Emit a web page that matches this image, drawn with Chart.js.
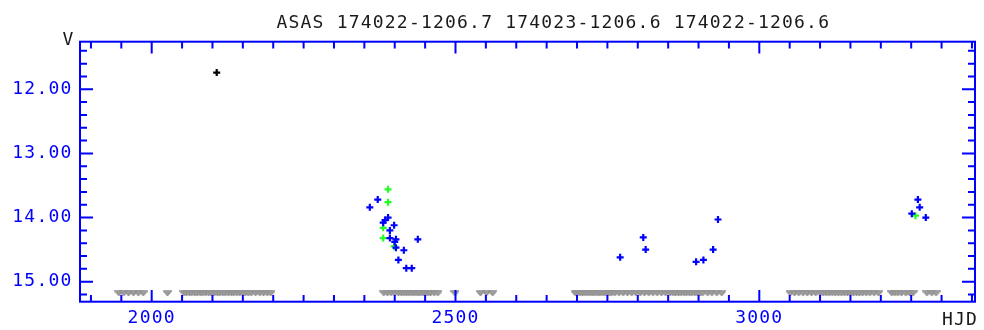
<!DOCTYPE html>
<html><head><meta charset="utf-8">
<script src="https://cdn.jsdelivr.net/npm/chart.js@4"></script>
<style>html,body{margin:0;padding:0;background:#fff}#wrap{width:984px;height:330px}</style>
</head><body><div id="wrap"><canvas id="c" width="984" height="330"></canvas></div>
<script>
const titleText = 'ASAS 174022-1206.7 174023-1206.6 174022-1206.6';
const xAxisName = 'HJD';
const yAxisName = 'V';
const xTickValues = [2000, 2500, 3000];
const xTickLabels = ['2000', '2500', '3000'];
const yTickValues = [12, 13, 14, 15];
const yTickLabels = ['12.00', '13.00', '14.00', '15.00'];

const blueHJD = [2372, 2359, 2389, 2381, 2384, 2399, 2392, 2392, 2402, 2400, 2438, 2402, 2415, 2406, 2419, 2428,
                 2771, 2809, 2813, 2896, 2908, 2924, 2932, 3261, 3264, 3251, 3274];
const blueMag = [13.72, 13.84, 14.00, 14.08, 14.04, 14.12, 14.20, 14.32, 14.34, 14.38, 14.34, 14.47, 14.51, 14.66, 14.79, 14.79,
                 14.62, 14.31, 14.50, 14.69, 14.66, 14.50, 14.03, 13.72, 13.84, 13.94, 14.00];
const greenHJD = [2389, 2389, 2381, 2381, 2399, 3257];
const greenMag = [13.56, 13.76, 14.16, 14.32, 14.45, 13.97];
const blackHJD = [2107];
const blackMag = [11.74];

const ulHJD = [
  1946, 1954, 1962, 1970, 1978, 1986, 2026, 2053, 2057, 2062,
  2066, 2071, 2075, 2080, 2084, 2089, 2094, 2098, 2103, 2108,
  2112, 2117, 2121, 2126, 2131, 2135, 2140, 2145, 2150, 2154,
  2159, 2164, 2171, 2178, 2184, 2190, 2196, 2382, 2388, 2394,
  2400, 2406, 2411, 2415, 2419, 2423, 2427, 2431, 2435, 2439,
  2443, 2447, 2451, 2455, 2459, 2465, 2471, 2499, 2541, 2551,
  2561, 2697, 2701, 2705, 2709, 2713, 2717, 2721, 2725, 2729,
  2733, 2737, 2741, 2745, 2749, 2753, 2757, 2762, 2769, 2776,
  2783, 2790, 2797, 2804, 2811, 2818, 2825, 2832, 2839, 2846,
  2853, 2858, 2862, 2867, 2871, 2876, 2880, 2885, 2889, 2894,
  2898, 2903, 2907, 2915, 2922, 2930, 2938, 3051, 3058, 3065,
  3072, 3079, 3086, 3093, 3100, 3105, 3110, 3115, 3120, 3125,
  3130, 3135, 3140, 3145, 3150, 3155, 3160, 3165, 3170, 3176,
  3182, 3189, 3196, 3218, 3223, 3228, 3234, 3241, 3247, 3253,
  3276, 3284, 3291];
const ulMag = [
  15.18, 15.18, 15.18, 15.18, 15.18, 15.18, 15.18, 15.18, 15.18, 15.18,
  15.18, 15.18, 15.18, 15.18, 15.18, 15.18, 15.18, 15.18, 15.18, 15.18,
  15.18, 15.18, 15.18, 15.18, 15.18, 15.18, 15.18, 15.18, 15.18, 15.18,
  15.18, 15.18, 15.18, 15.18, 15.18, 15.18, 15.18, 15.18, 15.18, 15.18,
  15.18, 15.18, 15.18, 15.18, 15.18, 15.18, 15.18, 15.18, 15.18, 15.18,
  15.18, 15.18, 15.18, 15.18, 15.18, 15.18, 15.18, 15.18, 15.18, 15.18,
  15.18, 15.18, 15.18, 15.18, 15.18, 15.18, 15.18, 15.18, 15.18, 15.18,
  15.18, 15.18, 15.18, 15.18, 15.18, 15.18, 15.18, 15.18, 15.18, 15.18,
  15.18, 15.18, 15.18, 15.18, 15.18, 15.18, 15.18, 15.18, 15.18, 15.18,
  15.18, 15.18, 15.18, 15.18, 15.18, 15.18, 15.18, 15.18, 15.18, 15.18,
  15.18, 15.18, 15.18, 15.18, 15.18, 15.18, 15.18, 15.18, 15.18, 15.18,
  15.18, 15.18, 15.18, 15.18, 15.18, 15.18, 15.18, 15.18, 15.18, 15.18,
  15.18, 15.18, 15.18, 15.18, 15.18, 15.18, 15.18, 15.18, 15.18, 15.18,
  15.18, 15.18, 15.18, 15.18, 15.18, 15.18, 15.18, 15.18, 15.18, 15.18,
  15.18, 15.18, 15.18];

const pts = (xs, ys) => xs.map((x, i) => ({x: x, y: ys[i]}));

// upper-limit marker: small downward triangle
const vMark = document.createElement('canvas');
vMark.width = 9; vMark.height = 6;
(function(){
  const g = vMark.getContext('2d');
  g.fillStyle = '#a0a0a0'; g.strokeStyle = '#939393'; g.lineWidth = 1.2;
  g.beginPath(); g.moveTo(0.5, 0.8); g.lineTo(8.5, 0.8); g.lineTo(4.5, 5.5); g.closePath();
  g.fill(); g.stroke();
})();

const FONT = '"DejaVu Sans Mono", "Liberation Mono", monospace';
const BLUE = '#0000ff';

const framePlugin = {
  id: 'frame',
  beforeDraw(chart) { chart.ctx.letterSpacing = '1.2px'; },
  afterDatasetsDraw(chart) {
    const ctx = chart.ctx, a = chart.chartArea;
    const xs = chart.scales.x, ys = chart.scales.y;
    ctx.save();
    ctx.strokeStyle = BLUE; ctx.lineWidth = 2;
    ctx.strokeRect(a.left, a.top, a.right - a.left, a.bottom - a.top);
    ctx.beginPath();
    for (let v = 1900; v <= 3350; v += 50) {
      const px = xs.getPixelForValue(v);
      const len = (v % 500 === 0) ? 11.7 : 6.7;
      ctx.moveTo(px, a.top); ctx.lineTo(px, a.top + len);
      ctx.moveTo(px, a.bottom); ctx.lineTo(px, a.bottom - len);
    }
    for (let k = 57; k <= 76; k++) {
      const py = ys.getPixelForValue(k / 5);
      const len = (k % 5 === 0) ? 13 : 7;
      ctx.moveTo(a.left, py); ctx.lineTo(a.left + len, py);
      ctx.moveTo(a.right, py); ctx.lineTo(a.right - len, py);
    }
    ctx.stroke();
    ctx.restore();
  },
  afterDraw(chart) {
    const ctx = chart.ctx;
    ctx.save();
    ctx.letterSpacing = '1.2px';
    ctx.font = '18px ' + FONT;
    ctx.fillStyle = '#1a1a1a';
    ctx.textAlign = 'left'; ctx.textBaseline = 'alphabetic';
    ctx.fillText(titleText, 276.5, 28.3);
    ctx.fillText(yAxisName, 62.5, 45);
    ctx.fillText(xAxisName, 942, 325);
    ctx.restore();
  }
};

new Chart(document.getElementById('c'), {
  type: 'scatter',
  data: {
    datasets: [
      {data: pts(ulHJD, ulMag), pointStyle: vMark, pointRadius: 4},
      {data: pts(blueHJD, blueMag), pointStyle: 'cross', pointRadius: 3.5, borderColor: BLUE, borderWidth: 2.2},
      {data: pts(greenHJD, greenMag), pointStyle: 'cross', pointRadius: 3.5, borderColor: '#22ff22', borderWidth: 2.2},
      {data: pts(blackHJD, blackMag), pointStyle: 'cross', pointRadius: 3.5, borderColor: '#000000', borderWidth: 2.2}
    ]
  },
  options: {
    responsive: false, animation: false, devicePixelRatio: 1,
    layout: {padding: {top: 41.7, right: 9, left: 0, bottom: 0}},
    plugins: {legend: {display: false}, tooltip: {enabled: false}, title: {display: false}},
    elements: {point: {hoverRadius: 3.5}},
    scales: {
      x: {
        type: 'linear', min: 1882, max: 3355,
        grid: {display: false, drawTicks: false}, border: {display: false},
        afterBuildTicks: s => { s.ticks = xTickValues.map(v => ({value: v})); },
        afterFit: s => { s.height = 28.3; },
        ticks: {callback: (v, i) => xTickLabels[i], color: BLUE, font: {family: FONT, size: 18}, padding: 6, maxRotation: 0, autoSkip: false}
      },
      y: {
        type: 'linear', reverse: true, min: 11.258, max: 15.312,
        grid: {display: false, drawTicks: false}, border: {display: false},
        afterBuildTicks: s => { s.ticks = yTickValues.map(v => ({value: v})); },
        afterFit: s => { s.width = 80; },
        ticks: {callback: (v, i) => yTickLabels[i], color: BLUE, font: {family: FONT, size: 18}, padding: 7.5, autoSkip: false}
      }
    }
  },
  plugins: [framePlugin]
});
</script></body></html>
